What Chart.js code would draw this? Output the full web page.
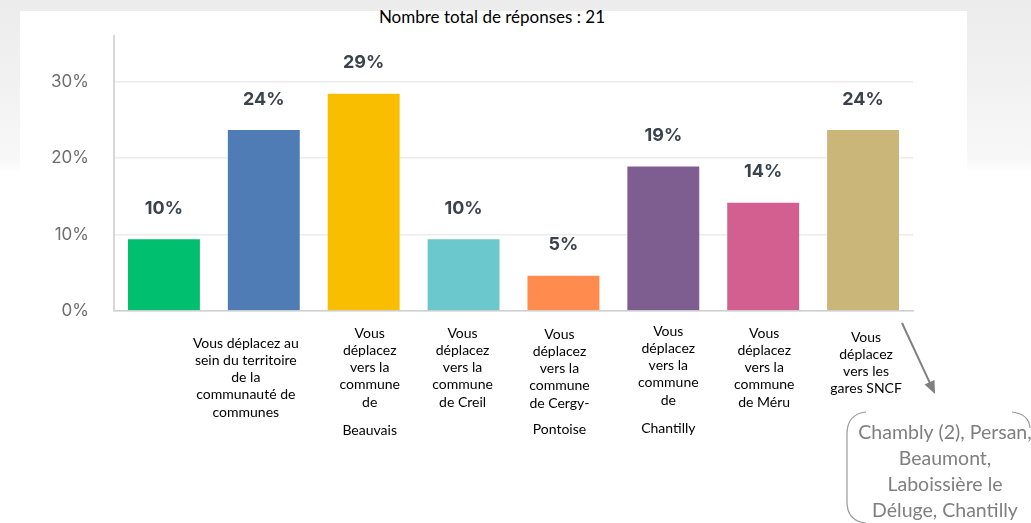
<!DOCTYPE html>
<html lang="fr">
<head>
<meta charset="utf-8">
<title>Nombre total de réponses : 21</title>
<script src="https://cdn.jsdelivr.net/npm/chart.js@4.4.1/dist/chart.umd.min.js"></script>
<style>
  html, body { margin: 0; padding: 0; }
  body {
    width: 1031px; height: 523px; overflow: hidden; position: relative;
    background: linear-gradient(180deg, #ececec 0px, #f1f1f1 80px, #f8f8f8 160px, #ffffff 172px);
  }
  #panel { position: absolute; left: 20px; top: 11px; width: 947px; height: 310px; background: #fff; }
  #title { position: absolute; left: 0; width: 984px; top: 6px; text-align: center;
           font: 17px Lato, sans-serif; color: #000; }
  #chart { position: absolute; left: 0; top: 0; }
</style>
</head>
<body>
<div id="panel"></div>
<div id="title">Nombre total de réponses : 21</div>
<canvas id="chart" width="1031" height="523"></canvas>
<script>
// categories (one list of lines per bar, the first bar has no caption)
const categories = [
    [],
    ['Vous déplacez au', 'sein du territoire', 'de la', 'communauté de', 'communes'],
    ['Vous', 'déplacez', 'vers la', 'commune', 'de', 'Beauvais'],
    ['Vous', 'déplacez', 'vers la', 'commune', 'de Creil'],
    ['Vous', 'déplacez', 'vers la', 'commune', 'de Cergy-', 'Pontoise'],
    ['Vous', 'déplacez', 'vers la', 'commune', 'de', 'Chantilly'],
    ['Vous', 'déplacez', 'vers la', 'commune', 'de Méru'],
    ['Vous', 'déplacez', 'vers les', 'gares SNCF']
];

// share of answers, in %
const shares = [9.52, 23.81, 28.57, 9.52, 4.76, 19.05, 14.29, 23.81];

const barColors = ['#00bf6f', '#507cb6', '#f9be00', '#6bc8cd', '#ff8b4f', '#7e5e91', '#d25f90', '#c9b678'];

const yTicks = [0, 10, 20, 30];

const gareNotes = ['Chambly (2), Persan,', 'Beaumont,', 'Laboissière le', 'Déluge, Chantilly'];


const valueLabels = {
    id: 'valueLabels',
    afterDatasetsDraw(chart) {
        const { ctx } = chart;
        const meta = chart.getDatasetMeta(0);
        ctx.save();
        ctx.font = '700 18px Inter, sans-serif';
        ctx.fillStyle = '#3a434c';
        ctx.textAlign = 'center';
        ctx.textBaseline = 'middle';
        meta.data.forEach((bar, i) => {
            ctx.fillText(Math.round(shares[i]) + '%', bar.x, bar.y - 30);
        });
        ctx.restore();
    }
};

// captions were separate text boxes on the slide, so they sit a bit irregularly
const categoryLabels = {
    id: 'categoryLabels',
    afterDraw(chart) {
        const { ctx } = chart;
        const xScale = chart.scales.x;
        const shiftX = [0, -18, 6, -1, -4, 5, 1, 3];
        const firstY = [0, 343, 333, 333, 334, 331, 333, 337];
        const lastGap = [0, 0, 11, 0, 9, 11, 0, 0];
        ctx.save();
        ctx.font = '14px Lato, sans-serif';
        ctx.fillStyle = '#000';
        ctx.textAlign = 'center';
        ctx.textBaseline = 'middle';
        categories.forEach((lines, i) => {
            let y = firstY[i];
            lines.forEach((line, j) => {
                if (j > 0 && j === lines.length - 1) y += lastGap[i];
                ctx.fillText(line, xScale.getPixelForValue(i) + shiftX[i], y);
                y += 17.3;
            });
        });
        ctx.restore();
    }
};

const noteCallout = {
    id: 'noteCallout',
    afterDraw(chart) {
        const { ctx } = chart;
        ctx.save();

        // arrow
        const x0 = 902, y0 = 323, x1 = 935, y1 = 394;
        const ang = Math.atan2(y1 - y0, x1 - x0);
        ctx.strokeStyle = '#808080';
        ctx.fillStyle = '#808080';
        ctx.lineWidth = 2;
        ctx.beginPath();
        ctx.moveTo(x0, y0);
        ctx.lineTo(x1 - 10 * Math.cos(ang), y1 - 10 * Math.sin(ang));
        ctx.stroke();
        ctx.beginPath();
        ctx.moveTo(x1, y1);
        ctx.lineTo(x1 - 13 * Math.cos(ang) + 5.5 * Math.sin(ang), y1 - 13 * Math.sin(ang) - 5.5 * Math.cos(ang));
        ctx.lineTo(x1 - 13 * Math.cos(ang) - 5.5 * Math.sin(ang), y1 - 13 * Math.sin(ang) + 5.5 * Math.cos(ang));
        ctx.closePath();
        ctx.fill();

        // double bracket
        ctx.strokeStyle = '#9a9a9a';
        ctx.lineWidth = 1.2;
        ctx.beginPath();
        ctx.moveTo(866, 412);
        ctx.quadraticCurveTo(847, 414, 847, 434);
        ctx.lineTo(847, 502);
        ctx.quadraticCurveTo(847, 521, 866, 523);
        ctx.stroke();
        ctx.beginPath();
        ctx.moveTo(1012, 412);
        ctx.quadraticCurveTo(1029, 414, 1030, 428);
        ctx.stroke();

        // text
        ctx.font = '19.5px Lato, sans-serif';
        ctx.fillStyle = '#7f7f7f';
        ctx.textAlign = 'center';
        ctx.textBaseline = 'middle';
        gareNotes.forEach((line, i) => {
            ctx.fillText(line, 945, 433 + i * 25.8);
        });
        ctx.restore();
    }
};


new Chart(document.getElementById('chart'), {
    type: 'bar',
    data: {
        labels: categories.map(lines => lines.join(' ')),
        datasets: [
            {
                data: shares,
                backgroundColor: barColors,
                borderColor: 'rgba(255, 255, 255, 0.3)',
                borderWidth: 1,
                barPercentage: 0.74,
                categoryPercentage: 1
            }
        ]
    },
    options: {
        responsive: false,
        animation: false,
        layout: {
            padding: { left: 2, top: 36, right: 118, bottom: 0 }
        },
        plugins: {
            legend: { display: false },
            tooltip: { enabled: false }
        },
        scales: {
            x: {
                grid: { display: false },
                border: { color: '#cfcfcf', width: 1.5 },
                ticks: { display: false },
                afterFit: scale => { scale.height = 212; }
            },
            y: {
                min: 0,
                max: 36,
                afterBuildTicks: scale => { scale.ticks = yTicks.map(v => ({ value: v })); },
                ticks: {
                    callback: v => v + '%',
                    padding: 25,
                    color: '#6e6e6e',
                    font: { family: 'Inter', size: 17 }
                },
                grid: { color: '#ececec', lineWidth: 1.5, drawTicks: false },
                border: { color: '#d8d8d8', width: 2 },
                afterFit: scale => { scale.width = 112; }
            }
        }
    },
    plugins: [valueLabels, categoryLabels, noteCallout]
});
</script>
</body>
</html>
